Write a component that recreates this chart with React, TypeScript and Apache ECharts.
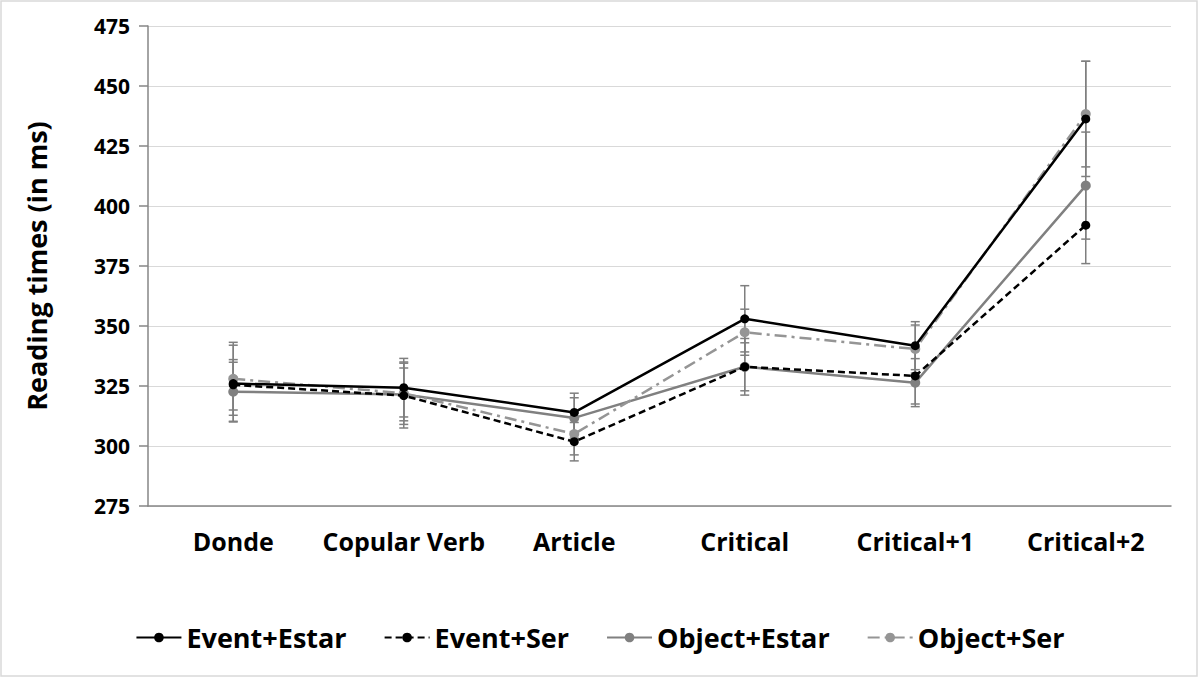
import React, { useEffect, useRef } from "react";
import * as echarts from "echarts";

const categories = ["Donde", "Copular Verb", "Article", "Critical", "Critical+1", "Critical+2"];
const seriesNames = ["Event+Estar", "Event+Ser", "Object+Estar", "Object+Ser"];
const eventEstar = [326, 324.3, 314, 353, 341.8, 436.3];
const eventSer = [325.5, 321, 301.8, 333, 329.2, 392];
const objectEstar = [322.6, 321.5, 311.7, 333, 326.4, 408.5];
const objectSer = [328, 322, 305, 347.4, 340.4, 438.3];
const errEventEstar = [16, 12.2, 8, 13.8, 10, 24];
const errEventSer = [10.5, 13.5, 8, 11.8, 11.7, 16];
const errObjectEstar = [12.3, 11, 8.4, 10, 10, 22.3];
const errObjectSer = [15.2, 13, 8.7, 9.6, 10, 22];
const yTicks = [275, 300, 325, 350, 375, 400, 425, 450, 475];

const FONT = "'Open Sans', Lato, sans-serif";

export default function App() {
  const ref = useRef<HTMLDivElement>(null);
  useEffect(() => {
    document.body.style.margin = "0";
    const chart = echarts.init(ref.current!, null, { renderer: "svg" });
    const values = [eventEstar, eventSer, objectEstar, objectSer];
    const errs = [errEventEstar, errEventSer, errObjectEstar, errObjectSer];
    const colors = ["#000000", "#000000", "#808080", "#959595"];
    const lineTypes: any[] = ["solid", [7, 4], "solid", [12, 5, 3, 5]];

    const errorSeries = values.map((vals, si) => ({
      type: "custom",
      name: seriesNames[si] + " err",
      z: 1,
      silent: true,
      data: vals.map((v, i) => [i, v - errs[si][i], v + errs[si][i]]),
      renderItem: (params: any, api: any) => {
        const x = api.value(0);
        const lo = api.coord([x, api.value(1)]);
        const hi = api.coord([x, api.value(2)]);
        const hw = 4.5;
        const style = { stroke: "#7f7f7f", lineWidth: 1.5 };
        return {
          type: "group",
          children: [
            { type: "line", shape: { x1: lo[0], y1: lo[1], x2: hi[0], y2: hi[1] }, style },
            { type: "line", shape: { x1: lo[0] - hw, y1: lo[1], x2: lo[0] + hw, y2: lo[1] }, style },
            { type: "line", shape: { x1: hi[0] - hw, y1: hi[1], x2: hi[0] + hw, y2: hi[1] }, style },
          ],
        };
      },
    }));

    const lineSeries = values.map((vals, si) => ({
      type: "line",
      name: seriesNames[si],
      data: vals,
      z: 3 + (si >= 2 ? 0 : 1),
      symbol: "circle",
      symbolSize: si >= 2 ? 10 : 9,
      showSymbol: true,
      itemStyle: { color: colors[si] },
      lineStyle: { color: colors[si], width: 2.5, type: lineTypes[si] },
    }));

    chart.setOption({
      animation: false,
      backgroundColor: "#ffffff",
      textStyle: { fontFamily: FONT },
      grid: { left: 148, right: 29, top: 26, bottom: 173 },
      legend: {
        data: seriesNames,
        top: 619,
        left: "center",
        itemWidth: 45,
        itemHeight: 12,
        itemGap: 37,
        textStyle: { fontFamily: FONT, fontSize: 27, fontWeight: "bold", color: "#000" },
      },
      xAxis: [
        {
          type: "category",
          data: categories,
          boundaryGap: true,
          axisLine: { lineStyle: { color: "#868686", width: 1.5 } },
          axisTick: { alignWithLabel: true, length: 8, lineStyle: { color: "#868686", width: 1.5 } },
          axisLabel: { interval: 0, fontFamily: FONT, fontSize: 25, fontWeight: "bold", color: "#000", margin: 22 },
        },
        {
          type: "category",
          data: categories,
          position: "bottom",
          boundaryGap: true,
          axisLine: { show: false },
          axisTick: { inside: true, alignWithLabel: true, length: 5, lineStyle: { color: "#868686", width: 1.5 } },
          axisLabel: { show: false },
        },
      ],
      yAxis: {
        type: "value",
        min: yTicks[0],
        max: yTicks[yTicks.length - 1],
        interval: 25,
        name: "Reading times (in ms)",
        nameLocation: "middle",
        nameGap: 98,
        nameTextStyle: { fontFamily: FONT, fontSize: 27, fontWeight: "bold", color: "#000" },
        axisLine: { show: true, lineStyle: { color: "#868686", width: 1.5 } },
        axisTick: { show: true, length: 9, lineStyle: { color: "#868686", width: 1.5 } },
        axisLabel: { fontFamily: FONT, fontSize: 21, fontWeight: "bold", color: "#000", margin: 18 },
        splitLine: { lineStyle: { color: "#d9d9d9", width: 1.2 } },
      },
      graphic: [
        {
          type: "rect",
          shape: { x: 1, y: 1, width: 1196, height: 675 },
          style: { fill: "none", stroke: "#d9d9d9", lineWidth: 1.5 },
          silent: true,
        },
      ],
      series: [...errorSeries, ...lineSeries],
    });
    return () => chart.dispose();
  }, []);
  return <div ref={ref} style={{ width: 1200, height: 679 }} />;
}
